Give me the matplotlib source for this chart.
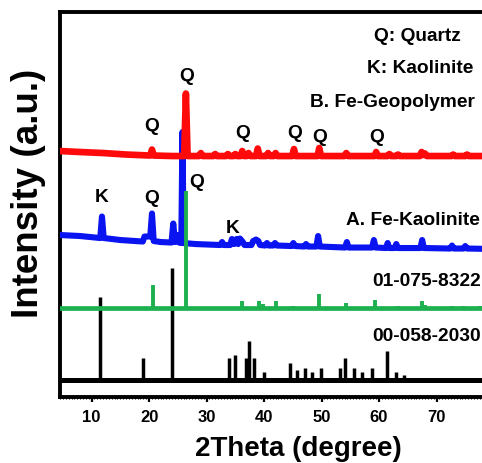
import numpy as np
import matplotlib
matplotlib.use("Agg")
import matplotlib.pyplot as plt
from matplotlib.ticker import FixedLocator, MultipleLocator

plt.rcParams['font.family'] = ['Liberation Sans', 'DejaVu Sans']
plt.rcParams['font.weight'] = 'bold'

# reference pattern 00-058-2030 (kaolinite), sticks above its baseline
kaol_base = 17
kaol_pos = [11.5, 19.0, 24.0, 33.9, 35.0, 36.9, 37.4, 38.3, 40.0, 44.5, 45.7,
            47.1, 48.3, 49.9, 53.2, 54.1, 55.7, 57.1, 58.7, 61.3, 62.9, 64.3]
kaol_h = [83, 22, 112, 22, 25, 22, 39, 22, 8, 17, 10,
          12, 8, 12, 12, 22, 12, 8, 12, 29, 8, 5]

# reference pattern 01-075-8322 (quartz)
quartz_base = 89
quartz_pos = [20.7, 26.4, 36.2, 39.2, 39.9, 42.0, 45.1, 49.6, 54.3, 59.3,
              63.3, 67.4, 68.0, 72.7, 74.6, 77.6]
quartz_h = [23, 117, 7, 7, 4, 7, 2, 14, 5, 8,
            2, 7, 3, 2, 2, 2]

# A. Fe-Kaolinite measured curve (2theta, intensity a.u.)
kaolinite_x = [4.5, 8, 11.5, 11.8, 12.1, 15, 18.9, 19.2, 20.2, 20.5, 20.8, 22,
               23.9, 24.2, 24.5, 24.9, 25.2, 25.6, 25.8, 26.0, 28, 32.4, 32.7,
               33.0, 34.1, 34.4, 34.8, 35.2, 35.5, 35.8, 36.3, 36.6, 37.8, 38.1,
               38.6, 39.0, 39.3, 40.2, 40.5, 40.8, 41.6, 41.9, 42.2, 44.8, 45.1,
               45.4, 47.0, 47.3, 47.6, 49.1, 49.4, 49.7, 54.1, 54.4, 54.7, 58.8,
               59.1, 59.4, 61.2, 61.5, 61.8, 62.7, 63.0, 63.3, 67.2, 67.5, 67.8,
               72.4, 72.7, 73.0, 74.7, 75.0, 75.3, 80]
kaolinite_y = [162, 161, 159, 180.5, 159, 157, 155.5, 160.5, 160.5, 183.5, 156, 155,
               154.5, 173.5, 155, 162, 154.5, 154, 265, 154, 153, 152, 155,
               152, 152, 158, 153, 158, 153, 158.5, 155, 152, 152, 156,
               157.5, 156, 152, 151.5, 154, 151.5, 151.5, 154, 151.5, 151, 154,
               151, 150.5, 153, 150.5, 150.5, 161, 150.5, 149.5, 155, 149.5, 149.5,
               157, 149.5, 149, 154, 149, 149, 153, 149, 149, 157, 149,
               148.5, 151.5, 148.5, 148.5, 151, 148.5, 148]

# B. Fe-Geopolymer measured curve
geopoly_x = [4.5, 8, 12, 16, 20.2, 20.5, 20.8, 24, 26.1, 26.4, 26.7, 28.7, 29.0,
             29.3, 31.2, 31.5, 31.8, 33.4, 33.7, 34.0, 34.7, 35.0, 35.3, 35.9,
             36.2, 36.5, 37.0, 37.3, 37.6, 38.6, 38.9, 39.2, 40.4, 40.7, 41.0,
             41.7, 42.0, 42.3, 44.9, 45.2, 45.5, 49.3, 49.6, 49.9, 54.0, 54.3,
             54.6, 59.2, 59.5, 59.8, 61.5, 61.8, 62.1, 63.0, 63.3, 63.6, 67.1,
             67.4, 67.7, 68.0, 68.3, 72.6, 72.9, 73.2, 75.0, 75.3, 75.6, 80]
geopoly_y = [246, 245, 244, 242.5, 241.5, 247.5, 241.5, 241, 241, 303.5, 241, 241, 244,
             241, 241, 243, 241, 241, 243, 241, 241, 243, 241, 241,
             246, 241, 241, 244, 241, 241, 248.5, 241, 241, 244, 241,
             241, 244, 241, 241, 248, 241, 241, 249, 241, 241, 244,
             241, 241, 245, 241, 241, 243, 241, 241, 242.5, 241, 241,
             245, 242, 243.5, 241, 241, 242.5, 241, 241, 242.5, 241, 241]

q_labels = [("Q", 20.5, 272), ("Q", 26.6, 322), ("Q", 36.3, 265), ("Q", 45.4, 265),
            ("Q", 49.7, 261), ("Q", 59.5, 261),
            ("K", 11.7, 201), ("Q", 20.5, 200), ("Q", 28.3, 216), ("K", 34.6, 170)]
xticks = [10, 20, 30, 40, 50, 60, 70]

fig = plt.figure(figsize=(4.82, 4.64), dpi=100)
ax = fig.add_axes([0.1245, 0.1422, 0.9004, 0.8297])

# reference sticks
ax.axhline(kaol_base, color='black', lw=3.6, zorder=2)
ax.vlines(kaol_pos, kaol_base, np.array(kaol_h) + kaol_base, color='black', lw=2.5, zorder=2)

ax.plot(kaolinite_x, kaolinite_y, color='#0a14f0', lw=4.4, solid_joinstyle='round', zorder=3)

ax.axhline(quartz_base, color='#1db04f', lw=3.4, zorder=4)
ax.vlines(quartz_pos, quartz_base, np.array(quartz_h) + quartz_base, color='#1db04f', lw=2.8, zorder=4)

ax.plot(geopoly_x, geopoly_y, color='#ff0a0a', lw=4.8, solid_joinstyle='round', zorder=5)

# annotations
fs = 13.8
for lab, x, y in q_labels:
    ax.text(x, y, lab, fontsize=fs, fontweight='bold', ha='center', va='center')
ax.text(66.6, 362, "Q: Quartz", fontsize=fs, fontweight='bold', ha='center', va='center')
ax.text(67.1, 330, "K: Kaolinite", fontsize=fs, fontweight='bold', ha='center', va='center')
ax.text(62.3, 296, "B. Fe-Geopolymer", fontsize=fs, fontweight='bold', ha='center', va='center')
ax.text(54.3, 178, "A. Fe-Kaolinite", fontsize=fs, fontweight='bold', ha='left', va='center')
ax.text(58.8, 117, "01-075-8322", fontsize=fs, fontweight='bold', ha='left', va='center')
ax.text(58.8, 62, "00-058-2030", fontsize=fs, fontweight='bold', ha='left', va='center')

ax.set_xlim(4.5, 80)
ax.set_ylim(0, 385)
ax.set_yticks([])
ax.xaxis.set_major_locator(FixedLocator(xticks))
ax.xaxis.set_minor_locator(MultipleLocator(0.5))
ax.tick_params(axis='x', which='major', direction='out', length=3.5, width=1.6,
               labelsize=12, pad=5)
ax.tick_params(axis='x', which='minor', direction='out', length=1.5, width=0.8)
for lbl in ax.get_xticklabels():
    lbl.set_fontweight('bold')
for sp in ax.spines.values():
    sp.set_linewidth(2.8)

fig.text(0.620, 0.033, "2Theta (degree)", fontsize=20, fontweight='bold',
         ha='center', va='center')
fig.text(0.060, 0.584, "Intensity (a.u.)", fontsize=26.5, fontweight='bold',
         ha='center', va='center', rotation=90)

fig.savefig("out.png", dpi=100)
